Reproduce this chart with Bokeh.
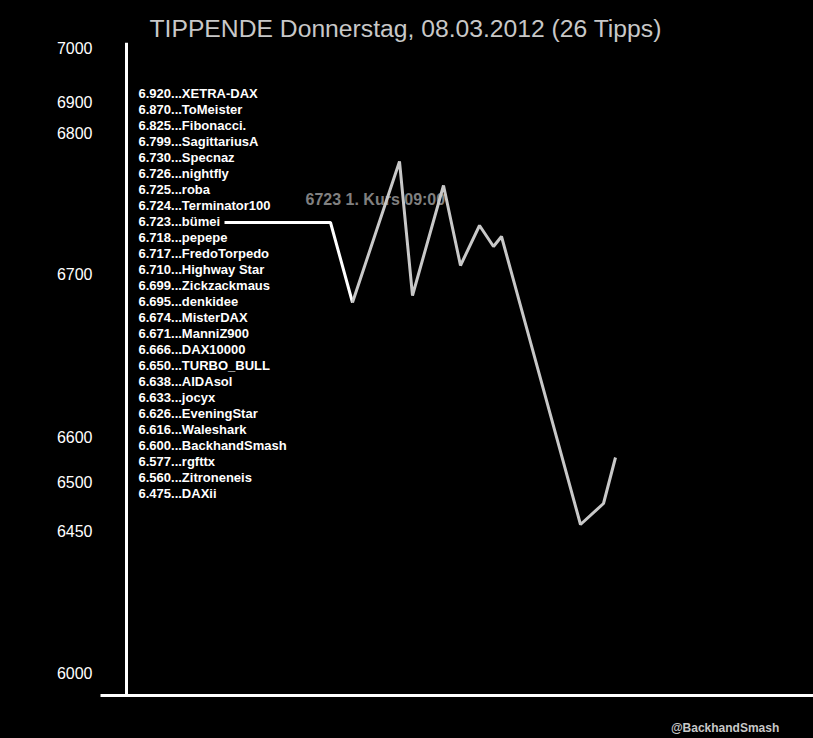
from bokeh.plotting import figure
from bokeh.layouts import column
from bokeh.models import Range1d, FixedTicker, LinearAxis, ColumnDataSource
from bokeh.core.properties import value
from bokeh.embed import file_html
from bokeh.resources import INLINE

# ---------------- data ----------------
title_text = "TIPPENDE Donnerstag, 08.03.2012 (26 Tipps)"
credit_text = "@BackhandSmash"
start_label = "6723 1. Kurs 09:00"

tip_values = [6920, 6870, 6825, 6799, 6730, 6726, 6725, 6724, 6723, 6718, 6717,
              6710, 6699, 6695, 6674, 6671, 6666, 6650, 6638, 6633, 6626, 6616,
              6600, 6577, 6560, 6475]
tip_names = ["XETRA-DAX", "ToMeister", "Fibonacci.", "SagittariusA", "Specnaz",
             "nightfly", "roba", "Terminator100", "bümei", "pepepe",
             "FredoTorpedo", "Highway Star", "Zickzackmaus", "denkidee",
             "MisterDAX", "ManniZ900", "DAX10000", "TURBO_BULL", "AIDAsol",
             "jocyx", "EveningStar", "Waleshark", "BackhandSmash", "rgfttx",
             "Zitroneneis", "DAXii"]

y_tick_labels = ["7000", "6900", "6800", "6700", "6600", "6500", "6450", "6000"]
y_tick_levels = [47, 101, 132, 273, 436, 481, 530, 672]

# connector from the first-price tip into the open, then the intraday course
open_x = [224, 330, 352]
open_y = [222, 222, 302]
kurs_x = [352, 399, 412, 443, 460, 479, 493, 501, 580, 603, 615]
kurs_y = [302, 161, 295, 185, 265, 225, 246, 236, 524, 503, 457]

# ---------------- main figure ----------------
FONT = "Liberation Sans"

p = figure(width=813, height=710,
           x_range=Range1d(100, 813), y_range=Range1d(695, 42),
           output_backend="svg", toolbar_location=None,
           x_axis_type=None, y_axis_type=None,
           background_fill_color="black", border_fill_color="black",
           outline_line_color=None,
           min_border_left=100, min_border_right=0,
           min_border_top=42, min_border_bottom=15)

p.title.text = title_text
p.title.align = "left"
p.title.offset = 49
p.title.standoff = 0
p.title.vertical_align = "middle"
p.title.text_color = "#c8c8c8"
p.title.text_font = FONT
p.title.text_font_size = "24.7px"
p.title.text_font_style = "normal"

# value labels of the left scale
ylabels = LinearAxis(ticker=FixedTicker(ticks=y_tick_levels),
                     major_label_overrides={lv: lab for lv, lab in zip(y_tick_levels, y_tick_labels)},
                     axis_line_color=None,
                     major_tick_line_color=None, minor_tick_line_color=None,
                     major_tick_in=0, major_tick_out=0,
                     major_label_standoff=8,
                     major_label_text_color="white",
                     major_label_text_font=FONT,
                     major_label_text_font_size="16px")
p.add_layout(ylabels, "left")

# vertical scale line
yline = LinearAxis(ticker=FixedTicker(ticks=[]), fixed_location=126,
                   axis_line_color="white", axis_line_width=3,
                   major_tick_line_color=None, minor_tick_line_color=None,
                   major_tick_in=0, major_tick_out=0,
                   major_label_text_font_size="0px")
p.add_layout(yline, "left")

xaxis = LinearAxis(ticker=FixedTicker(ticks=[]),
                   axis_line_color="white", axis_line_width=3,
                   major_tick_line_color=None, minor_tick_line_color=None,
                   major_tick_in=0, major_tick_out=0,
                   major_label_text_font_size="0px")
p.add_layout(xaxis, "below")

# tips list
tip_texts = [f"{v:,}".replace(",", ".") + "..." + n for v, n in zip(tip_values, tip_names)]
tip_src = ColumnDataSource(dict(x=[138] * len(tip_texts),
                                y=[93 + 16 * i for i in range(len(tip_texts))],
                                text=tip_texts))
p.text(x="x", y="y", text="text", source=tip_src,
       text_font=value(FONT), text_font_size="13px", text_font_style="bold",
       text_color="white", text_baseline="middle", text_align="left")

p.text(x=[305], y=[199], text=[start_label],
       text_font=value(FONT), text_font_size="16px", text_font_style="bold",
       text_color="#808080", text_baseline="middle", text_align="left")

p.line(open_x, open_y, line_color="white", line_width=3)
p.line(kurs_x, kurs_y, line_color="#c8c8c8", line_width=3)

# ---------------- credit strip ----------------
c = figure(width=813, height=28,
           x_range=Range1d(0, 813), y_range=Range1d(738, 710),
           output_backend="svg", toolbar_location=None,
           x_axis_type=None, y_axis_type=None,
           background_fill_color="black", border_fill_color="black",
           outline_line_color=None, min_border=0)
c.text(x=[774], y=[727], text=[credit_text],
       text_font=value(FONT), text_font_size="12px", text_font_style="bold",
       text_color="#c8c8c8", text_baseline="middle", text_align="right")

layout = column(p, c, spacing=0)

html = file_html(layout, INLINE)
html = html.replace("</head>", "<style>html,body{background:#000000;}</style></head>", 1)
open("out.html", "w").write(html)
